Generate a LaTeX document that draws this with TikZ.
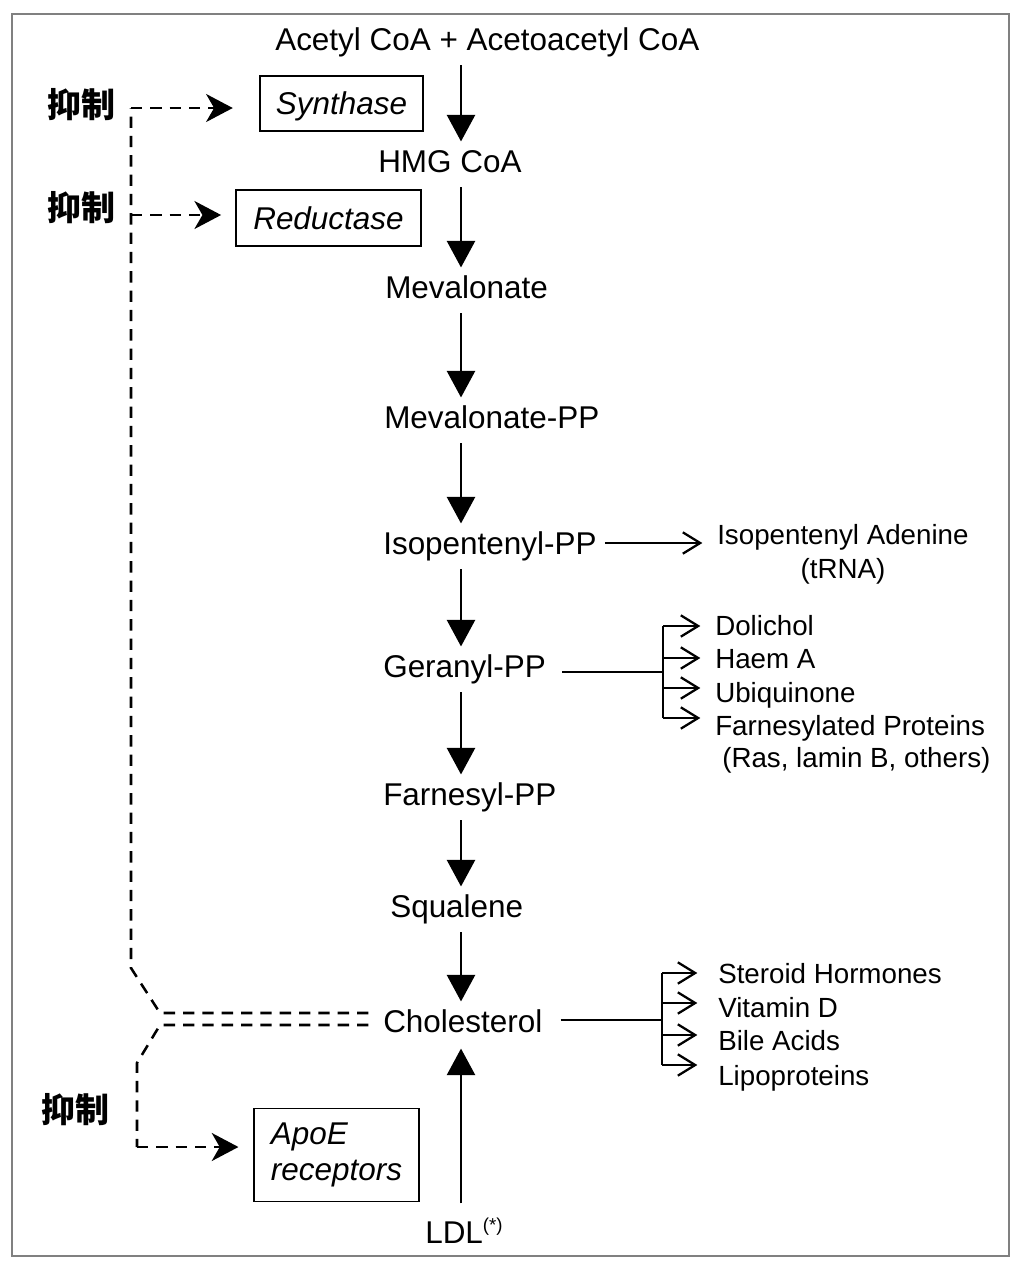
\documentclass[tikz,border=0pt]{standalone}
\usepackage{fontspec}
\setmainfont{Liberation Sans}
\newfontfamily\cjk{Noto Sans CJK SC}
\usetikzlibrary{arrows.meta}

\begin{document}
\begin{tikzpicture}[x=0.75pt,y=0.75pt,yscale=-1,xscale=1,
  compound/.style={anchor=west,inner sep=0pt,text height=16.9pt,text depth=0pt,font=\fontsize{23.6}{28}\selectfont},
  product/.style={anchor=west,inner sep=0pt,text height=14.9pt,text depth=0pt,font=\fontsize{20.8}{25}\selectfont},
  enzyme/.style={draw,line width=1.1pt,inner sep=0pt,font=\fontsize{23.6}{27}\selectfont\itshape},
  inhibit/.style={font=\cjk\bfseries\fontsize{25.5}{30}\selectfont},
  mainarrow/.style={line width=2.2pt,-{Triangle[width=21pt,length=20pt]},shorten <=11pt,shorten >=6pt},
  plain/.style={line width=1.7pt},
  branch/.style={line width=1.7pt,-{Straight Barb[length=13pt,width=16pt]}},
  dashline/.style={line width=1.9pt,dash pattern=on 8.5pt off 6pt},
  dasharrow/.style={dashline,-{Stealth[length=20pt,width=21pt,inset=6pt]}}
]
\useasboundingbox (0,0) rectangle (1012,1261);
%Shape: Frame
\draw [color=gray,line width=1.2pt] (12,14) rectangle (1009,1256);

% Text Node
\node[compound] (acetyl) at (275,39) {Acetyl CoA + Acetoacetyl CoA};
\node[compound] (hmg) at (378,161) {HMG CoA};
\node[compound] (meva) at (385,287) {Mevalonate};
\node[compound] (mevapp) at (384,417) {Mevalonate-PP};
\node[compound] (isopp) at (383,543) {Isopentenyl-PP};
\node[compound] (geranyl) at (383,666) {Geranyl-PP};
\node[compound] (farnesyl) at (383,794) {Farnesyl-PP};
\node[compound] (squalene) at (390,906) {Squalene};
\node[compound] (chol) at (383,1021) {Cholesterol};
\node[compound] (ldl) at (425,1232) {LDL\raisebox{9pt}{\fontsize{14}{16}\selectfont(*)}};

% Shape: Enzyme boxes
\node[enzyme,minimum width=122pt,minimum height=41pt,text height=16.9pt,text depth=0pt] (synthase) at (341.5,103.5) {Synthase};
\node[enzyme,minimum width=139pt,minimum height=42pt,text height=16.9pt,text depth=0pt] (reductase) at (328.5,218) {Reductase};
\node[enzyme,minimum width=124pt,minimum height=70pt,align=left] (apoe) at (336.5,1155) {ApoE\\receptors};

% Text Node
\node[inhibit] (inh1) at (81,105) {抑制};
\node[inhibit] (inh2) at (81,208) {抑制};
\node[inhibit] (inh3) at (75,1110) {抑制};

%Straight Lines: main pathway
\coordinate (axis) at (461,0);
\foreach \a/\b in {acetyl/hmg,hmg/meva,meva/mevapp,mevapp/isopp,isopp/geranyl,geranyl/farnesyl,farnesyl/squalene,squalene/chol}
  \draw[mainarrow] (\a.south -| axis) -- (\b.north -| axis);
\draw[mainarrow,shorten <=12.75pt,shorten >=12pt] (ldl.north -| axis) -- (chol.south -| axis);

%Straight Lines: isopentenyl branch
\node[product] (isoade) at (717,535) {Isopentenyl Adenine};
\node[product,anchor=center] (trna) at (843,569) {(tRNA)};
\draw[branch,shorten <=6pt,shorten >=11pt] (isopp.east) -- (isopp.east -| isoade.west);

%Straight Lines: geranyl branch
\coordinate (gbr) at (663,672);
\coordinate (g1) at (663,626);
\coordinate (g2) at (663,658);
\coordinate (g3) at (663,688);
\coordinate (g4) at (663,718);
\node[product] (dolichol) at (715,626) {Dolichol};
\node[product] (haem) at (715,659) {Haem A};
\node[product] (ubiq) at (715,693) {Ubiquinone};
\node[product] (farnprot) at (715,726) {Farnesylated Proteins};
\node[product] (ras) at (722,758) {(Ras, lamin B, others)};
\draw[plain,shorten <=12pt] (geranyl.east |- gbr) -- (gbr);
\draw[plain] (g1) -- (g4);
\foreach \c/\n in {g1/dolichol,g2/haem,g3/ubiq,g4/farnprot}
  \draw[branch,shorten >=11pt] (\c) -- (\c -| \n.west);

%Straight Lines: cholesterol branch
\coordinate (cbr) at (662,1020);
\coordinate (c1) at (662,973);
\coordinate (c2) at (662,1003);
\coordinate (c3) at (662,1035);
\coordinate (c4) at (662,1065);
\node[product] (steroid) at (718,974) {Steroid Hormones};
\node[product] (vitd) at (718,1008) {Vitamin D};
\node[product] (bile) at (718,1041) {Bile Acids};
\node[product] (lipo) at (718,1076) {Lipoproteins};
\draw[plain,shorten <=13.5pt] (chol.east |- cbr) -- (cbr);
\draw[plain] (c1) -- (c4);
\foreach \c/\n in {c1/steroid,c2/vitd,c3/bile,c4/lipo}
  \draw[branch,shorten >=15.5pt] (\c) -- (\c -| \n.west);

%Straight Lines: feedback (dashed)
\coordinate (topcorner) at (131,108);
\coordinate (redcorner) at (131,215);
\coordinate (bendA) at (131,968);
\coordinate (junA) at (160,1013);
\coordinate (junB) at (160,1025);
\coordinate (bendB) at (137,1063);
\coordinate (apocorner) at (137,1147);
\draw[dashline,shorten <=11pt] (chol.west |- junA) -- (junA) -- (bendA) -- (topcorner);
\draw[dasharrow,shorten >=20pt] (topcorner) -- (topcorner -| synthase.west);
\draw[dasharrow,shorten >=10.5pt] (redcorner) -- (redcorner -| reductase.west);
\draw[dashline,shorten <=11pt] (chol.west |- junB) -- (junB) -- (bendB) -- (apocorner);
\draw[dasharrow,shorten >=11pt] (apocorner) -- (apocorner -| apoe.west);
\end{tikzpicture}
\end{document}
